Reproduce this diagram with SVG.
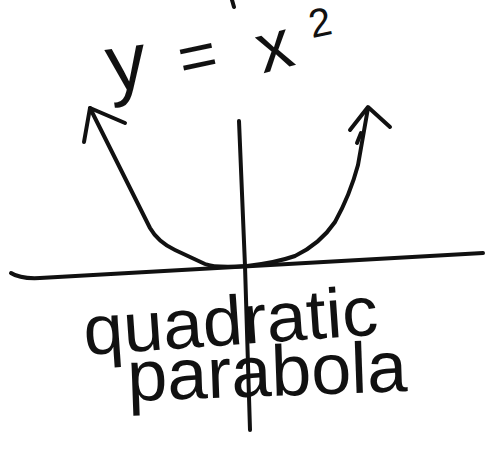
<svg xmlns="http://www.w3.org/2000/svg" width="486" height="453" viewBox="0 0 486 453">
<style>
.ink{fill:none;stroke:#111;stroke-width:4;stroke-linecap:round;stroke-linejoin:round}
.hw{font-family:"Liberation Sans","DejaVu Sans",sans-serif;fill:#111}
</style>
<rect width="486" height="453" fill="#fff"/>
<g id="axes">
<path class="ink" d="M11 273 Q20 279 40 278 L483 253"/>
<path class="ink" d="M239 121 L245 266 L250 430"/>
<path class="ink" d="M232 0 L234 7"/>
</g>
<g id="curve">
<path class="ink" d="M90 108 L150 228 Q158 242 175 250 L205 264 Q215 268 247 266 Q275 263 295 256 Q320 244 335 222 Q350 195 358 165 L368 108"/>
<path class="ink" d="M84 142 L90 108 L125 123"/>
<path class="ink" d="M350 130 L368 107 L390 127"/>
<path class="ink" d="M357 143 L361 133"/>
</g>
<g id="equation" class="hw">
<text x="110" y="92" font-size="80" transform="rotate(-8 110 92)">y</text>
<text x="202" y="78" font-size="66" text-anchor="middle" transform="rotate(-12 202 78)">=</text>
<text x="280" y="69" font-size="70" text-anchor="middle" transform="rotate(-15 280 69)">x</text>
<text x="323" y="36" font-size="40" text-anchor="middle" transform="rotate(-12 323 36)">2</text>
</g>
<g id="caption" class="hw">
<text x="85" y="355" font-size="70" textLength="295" lengthAdjust="spacingAndGlyphs" transform="rotate(-4 85 355)">quadratic</text>
<text x="128" y="401" font-size="72" textLength="280" lengthAdjust="spacingAndGlyphs" transform="rotate(-2 128 401)">parabola</text>
</g>
</svg>
